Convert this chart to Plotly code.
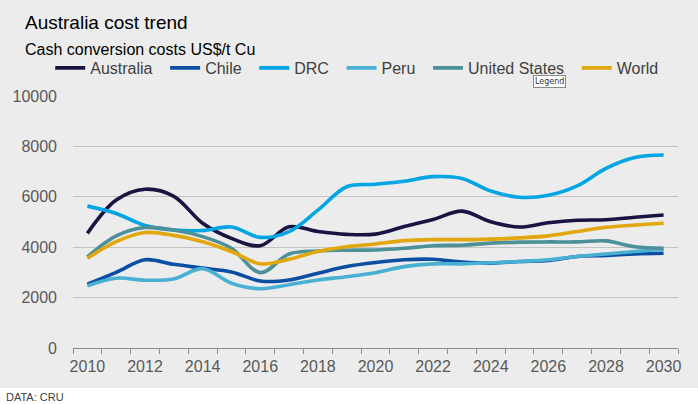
import plotly.graph_objects as go

years = list(range(2010, 2031))
australia = [4550, 5870, 6300, 6020, 4950, 4350, 4060, 4810, 4620, 4510, 4520, 4820, 5100, 5430, 5010, 4800, 4970, 5070, 5090, 5190, 5280]
chile = [2530, 3000, 3500, 3320, 3170, 3020, 2660, 2700, 2970, 3230, 3390, 3500, 3520, 3410, 3370, 3430, 3470, 3630, 3670, 3730, 3760]
drc = [5630, 5340, 4860, 4680, 4660, 4800, 4390, 4620, 5470, 6400, 6500, 6620, 6800, 6730, 6230, 5980, 6060, 6430, 7130, 7560, 7660]
peru = [2470, 2770, 2690, 2740, 3150, 2570, 2350, 2510, 2700, 2830, 2990, 3230, 3340, 3340, 3380, 3430, 3500, 3630, 3730, 3830, 3920]
united_states = [3620, 4450, 4780, 4680, 4420, 3960, 2990, 3730, 3850, 3880, 3890, 3960, 4060, 4080, 4160, 4200, 4210, 4210, 4250, 4020, 3960]
world = [3560, 4220, 4580, 4470, 4220, 3830, 3340, 3520, 3830, 4020, 4130, 4260, 4300, 4300, 4320, 4370, 4450, 4620, 4790, 4880, 4950]

series_names = ["Australia", "Chile", "DRC", "Peru", "United States", "World"]
series_values = [australia, chile, drc, peru, united_states, world]
colors = ["#1b1442", "#0b4ea2", "#00a5e3", "#48b0d2", "#4c9098", "#e2a70c"]
x_labels = list(range(2010, 2031, 2))

W, H = 698, 404
ML, MR, MT, MB = 67, 20, 96, 56
PW, PH = W - ML - MR, H - MT - MB


def px(x):
    return (x - ML) / PW


def py(y):
    return (H - MB - y) / PH


PAD = "\u00a0\u2009"
fig = go.Figure()
for name, vals, col in zip(series_names, series_values, colors):
    fig.add_trace(go.Scatter(
        x=years, y=vals, name=name + PAD, mode="lines",
        line=dict(color=col, width=3.6, shape="spline", smoothing=1.0),
    ))

font_family = "Liberation Sans, Arial, sans-serif"
bg = "#ececec"

fig.update_layout(
    width=W, height=H,
    margin=dict(l=ML, r=MR, t=MT, b=MB),
    paper_bgcolor=bg, plot_bgcolor=bg,
    font=dict(family=font_family, size=16, color="#595959"),
    showlegend=True,
    legend=dict(
        orientation="h", x=px(44), y=py(68), xanchor="left", yanchor="middle",
        font=dict(size=16, color="#404040"), bgcolor="rgba(0,0,0,0)",
        itemwidth=30, tracegroupgap=0,
    ),
    xaxis=dict(
        range=[2009.5, 2030.5], tickmode="array", tickvals=x_labels,
        ticktext=[str(v) for v in x_labels], ticks="", showgrid=False,
        zeroline=False, showline=True, linecolor="#8c8c8c", linewidth=1,
        tickfont=dict(size=16, color="#595959"), ticklabelstandoff=4,
        minor=dict(tickmode="linear", tick0=2009.5, dtick=1, ticks="outside",
                   ticklen=5, tickcolor="#8c8c8c", showgrid=False),
        fixedrange=True,
    ),
    yaxis=dict(
        range=[0, 10000], dtick=2000, tick0=0, tickformat="d", showgrid=True,
        gridcolor="#c3c3c3", gridwidth=1, zeroline=False, showline=False,
        ticks="", tickfont=dict(size=16, color="#595959"), ticklabelstandoff=15,
        fixedrange=True,
    ),
    shapes=[dict(type="rect", xref="paper", yref="paper",
                 x0=-0.2, x1=1.2, y0=py(H + 10), y1=py(388),
                 fillcolor="white", line=dict(width=0), layer="above")],
    annotations=[
        dict(text="Australia cost trend", xref="paper", yref="paper",
             x=px(17), y=py(22.5), xanchor="left", yanchor="middle",
             showarrow=False, font=dict(size=19, color="#000000")),
        dict(text="Cash conversion costs US$/t Cu", xref="paper", yref="paper",
             x=px(17), y=py(49.5), xanchor="left", yanchor="middle",
             showarrow=False, font=dict(size=16, color="#000000")),
        dict(text="DATA: CRU", xref="paper", yref="paper",
             x=px(-3), y=py(397), xanchor="left", yanchor="middle",
             showarrow=False, font=dict(size=11, color="#404040")),
        dict(text="Legend", xref="paper", yref="paper",
             x=px(548), y=py(81.5), xanchor="center", yanchor="middle",
             showarrow=False, font=dict(family="DejaVu Sans, sans-serif", size=8, color="#333333"),
             bgcolor="white", bordercolor="#8a8a8a", borderwidth=1, borderpad=1),
    ],
)

fig.write_html("out.html", config={"displayModeBar": False},
               post_script="document.body.style.margin='0';document.body.style.overflow='hidden';")
